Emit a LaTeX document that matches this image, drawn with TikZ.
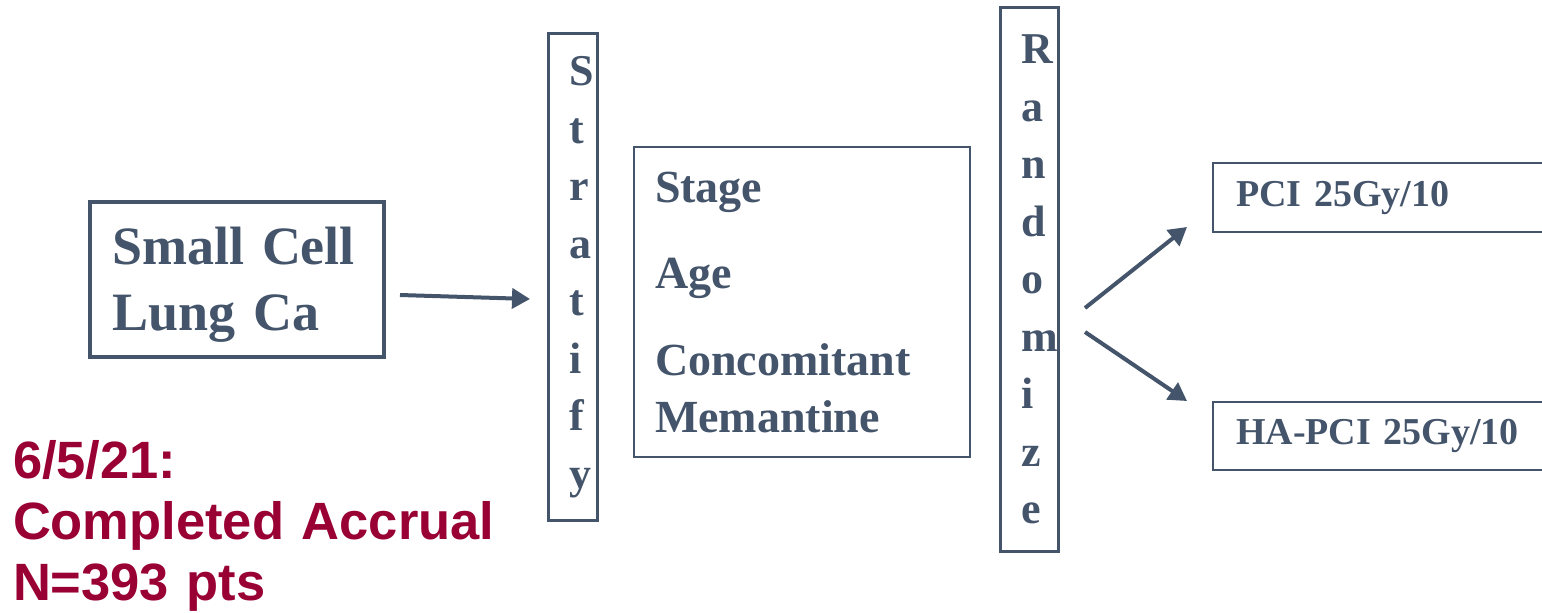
\documentclass[tikz,border=0pt]{standalone}
\usepackage{fontspec}
\setmainfont{Liberation Serif}
\newfontfamily\notefont{Liberation Sans}
\usetikzlibrary{arrows.meta}
\definecolor{slate}{HTML}{44546A}
\definecolor{claret}{HTML}{990033}
\newdimen\unit
\tikzset{unit/.code={\unit=\dimexpr#1\relax}}
\tikzset{xy/.style={x={#1},y={#1},unit={#1},font={\bfseries\fontsize{.46\unit}{.57\unit}\selectfont},line width=.02\unit}}
\tikzset{box/.style={draw=slate,text=slate,outer sep=0pt,inner sep=0pt,align=left}}
\tikzset{letters/.style={box,line width=.03\unit,font={\bfseries\fontsize{.44\unit}{.575\unit}\selectfont}}}
\tikzset{arm/.style={box,minimum width=3.47\unit,text width=3.01\unit,font={\bfseries\fontsize{.38\unit}{.46\unit}\selectfont}}}
\tikzset{link/.style={draw=slate,line width=.04\unit,-{Triangle[length=9pt,width=10pt]}}}

\begin{document}
\begin{tikzpicture}[xy=50pt]%
    \path [use as bounding box] (0,0) rectangle (15.42,6.12);
    \path (2.37,3.325) node [box,line width=.04\unit,minimum width=2.94\unit,minimum height=1.55\unit,text width=2.5\unit,
        font={\bfseries\fontsize{.54\unit}{.66\unit}\selectfont}] (scc) {\rule{0pt}{.47\unit}Small Cell\\Lung Ca};
    \path (5.725,3.35) node [letters,minimum width=.49\unit,minimum height=4.86\unit,text width=.07\unit] (strat)
        {S\\t\\r\\a\\t\\i\\f\\y};
    \path (8.02,3.10) node [box,minimum width=3.36\unit,minimum height=3.1\unit,text width=2.94\unit] (factors)
        {Stage\\[.295\unit]Age\\[.295\unit]Concomitant\\Memantine};
    \path (10.29,3.325) node [letters,minimum width=.58\unit,minimum height=5.43\unit,text width=.16\unit] (rnd)
        {R\\a\\n\\d\\o\\m\\i\\z\\e};
    \path (13.865,4.145) node [arm,minimum height=.69\unit] (pci) {PCI 25Gy/10};
    \path (13.865,1.76) node [arm,minimum height=.68\unit] (hapci) {HA-PCI 25Gy/10};
    \path (.12,1.34) node [anchor=base west,inner sep=0pt,text width=5\unit,align=left,text=claret,
        font={\notefont\bfseries\fontsize{.525\unit}{.61\unit}\selectfont}] (accrual) {6/5/21:\\Completed Accrual\\N=393 pts};
    \path [link] ([shift={(.16,-.155)}]scc.east) -- ([shift={(-.18,-.22)}]strat.west);
    \path [link] ([shift={(.27,-.285)}]rnd.east) -- ([shift={(-.26,-.295)}]pci.west);
    \path [link] ([shift={(.27,-.525)}]rnd.east) -- ([shift={(-.26,.35)}]hapci.west);
\end{tikzpicture}
\end{document}
